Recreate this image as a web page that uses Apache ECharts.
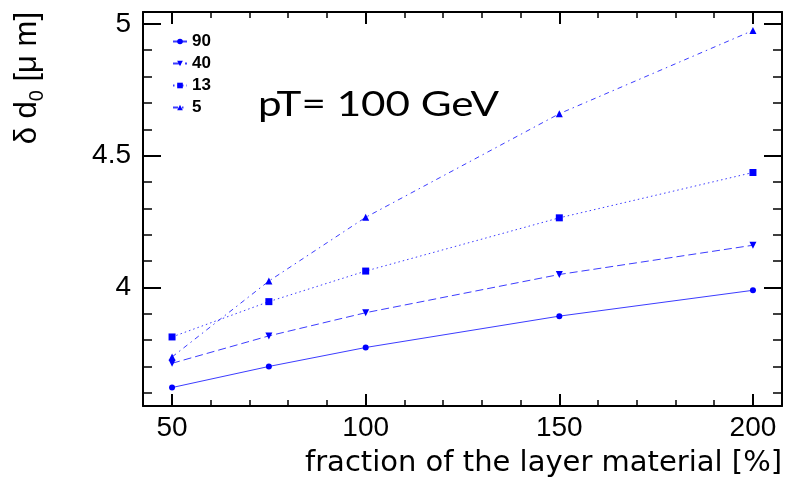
<!DOCTYPE html>
<html>
<head>
<meta charset="utf-8">
<title>delta d0 vs fraction of the layer material</title>
<script src="https://cdn.jsdelivr.net/npm/echarts@6.0.0/dist/echarts.min.js"></script>
<style>
  html, body { margin: 0; padding: 0; background: #fff; }
  #chart { width: 785px; height: 480px; }
</style>
</head>
<body>
<div id="chart"></div>
<script>
// fraction of the layer material [%]
const fractions = [50, 75, 100, 150, 200]
// delta d0 [um], one list per legend entry
const res90 = [3.62, 3.70, 3.772, 3.891, 3.989]
const res40 = [3.712, 3.816, 3.904, 4.049, 4.16]
const res13 = [3.812, 3.946, 4.062, 4.264, 4.436]
const res5 = [3.736, 4.024, 4.266, 4.659, 4.975]
const seriesNames = ['90', '40', '13', '5']

// tick positions (ROOT style frame: major + minor ticks on all four sides)
const xMajorTicks = [50, 100, 150, 200]
const xMinorTicks = [60, 70, 80, 90, 110, 120, 130, 140, 160, 170, 180, 190]
const yMajorTicks = [4, 4.5, 5]
const yMinorTicks = [3.6, 3.7, 3.8, 3.9, 4.1, 4.2, 4.3, 4.4, 4.6, 4.7, 4.8, 4.9]
const xRange = [42.5, 207.5]
const yRange = [3.55, 5.045]

const markerBlue = '#0000ff'
const lineBlue = '#3c3cff'
const helv = '"Liberation Sans", Arial, sans-serif'

function tickAxis(dim, position, ticks, len, opts) {
  const range = dim === 'x' ? xRange : yRange
  return {
    type: 'value',
    position: position,
    min: range[0],
    max: range[1],
    axisLine: { show: !!opts.line, onZero: false, lineStyle: { color: '#000', width: 2 } },
    axisTick: {
      show: true,
      inside: true,
      length: len,
      customValues: ticks,
      lineStyle: { color: '#000', width: opts.major ? 2 : 1.5 }
    },
    axisLabel: opts.labels ? {
      show: true,
      customValues: ticks,
      color: '#000',
      fontFamily: helv,
      fontSize: 28,
      margin: dim === 'x' ? 8 : 12
    } : { show: false },
    splitLine: { show: false },
    axisPointer: { show: false }
  }
}

function lineSeries(name, values, symbol, rotate, size, dash) {
  return {
    name: name,
    type: 'line',
    xAxisIndex: 0,
    yAxisIndex: 0,
    data: fractions.map((x, i) => [x, values[i]]),
    symbol: symbol,
    symbolRotate: rotate,
    symbolSize: size,
    itemStyle: { color: markerBlue },
    lineStyle: { color: lineBlue, width: 1, type: dash },
    emphasis: { disabled: true },
    z: 3
  }
}

const chart = echarts.init(document.getElementById('chart'), null, { renderer: 'canvas' })

chart.setOption({
  animation: false,
  backgroundColor: '#fff',
  grid: { left: 143, right: 3, top: 12, bottom: 74, containLabel: false },
  xAxis: [
    tickAxis('x', 'bottom', xMajorTicks, 12, { line: true, labels: true, major: true }),
    tickAxis('x', 'bottom', xMinorTicks, 6, {}),
    tickAxis('x', 'top', xMajorTicks, 12, { line: true, major: true }),
    tickAxis('x', 'top', xMinorTicks, 6, {})
  ],
  yAxis: [
    tickAxis('y', 'left', yMajorTicks, 18, { line: true, labels: true, major: true }),
    tickAxis('y', 'left', yMinorTicks, 9, {}),
    tickAxis('y', 'right', yMajorTicks, 18, { line: true, major: true }),
    tickAxis('y', 'right', yMinorTicks, 9, {})
  ],
  legend: {
    orient: 'vertical',
    left: 172,
    top: 33,
    padding: 0,
    itemWidth: 14,
    itemHeight: 7,
    itemGap: 5,
    data: seriesNames,
    textStyle: { color: '#000', fontFamily: helv, fontWeight: 'bold', fontSize: 17 }
  },
  graphic: [
    {
      type: 'text',
      x: 258,
      y: 105,
      scaleX: 1.24,
      style: { text: 'pT= 100 GeV', font: '34px Lato', fill: '#000', align: 'left', verticalAlign: 'middle' }
    },
    {
      type: 'text',
      x: 782,
      y: 463,
      style: { text: 'fraction of the layer material [%]', font: '29px "DejaVu Sans"', fill: '#000', align: 'right', verticalAlign: 'middle' }
    },
    {
      type: 'text',
      x: 27,
      y: 12,
      rotation: Math.PI / 2,
      style: {
        text: '{a|δ d}{s|0}{a| [μ m]}',
        align: 'right',
        verticalAlign: 'middle',
        rich: {
          a: { fontFamily: helv, fontSize: 31, lineHeight: 40, color: '#000' },
          s: { fontFamily: helv, fontSize: 20, lineHeight: 40, verticalAlign: 'bottom', color: '#000' }
        }
      }
    }
  ],
  series: [
    lineSeries('90', res90, 'circle', 0, 6, 'solid'),
    lineSeries('40', res40, 'triangle', 180, 7, [8, 4]),
    lineSeries('13', res13, 'rect', 0, 7, [1.5, 3]),
    lineSeries('5', res5, 'triangle', 0, 7, [5, 4, 1.5, 4])
  ]
})

window.addEventListener('resize', () => chart.resize())
</script>
</body>
</html>
